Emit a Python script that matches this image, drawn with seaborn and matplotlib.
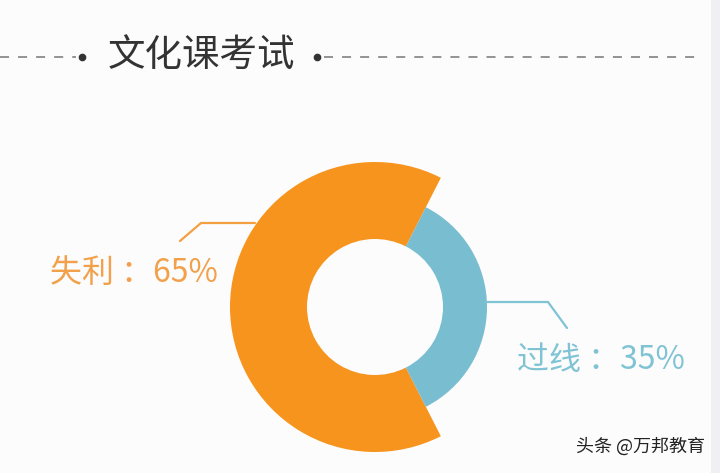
import matplotlib
matplotlib.use("Agg")
import matplotlib.pyplot as plt
import seaborn as sns

# data
categories = ["失利", "过线"]
shares = [65, 35]
colors = ["#F7941D", "#78BDD0"]
title = "文化课考试"
watermark = "头条 @万邦教育"

W, H = 720, 473

sns.set_theme(style="white")
plt.rcParams["font.family"] = ["Noto Sans CJK SC", "DejaVu Sans"]

fig = plt.figure(figsize=(W / 100, H / 100), dpi=100, facecolor="#fcfcfc")
ax = fig.add_axes([0, 0, 1, 1])
ax.set_facecolor("#fcfcfc")

# donut: big orange slice on the left, thinner blue slice centred on the right
cx, cy = 375, H - 307
inner = 68
outer = [145, 112]
start = 360 * shares[1] / sum(shares) / 2
wedges, _ = ax.pie(shares, colors=colors, startangle=start, counterclock=True,
                   center=(cx, cy), radius=outer[0], frame=True,
                   wedgeprops=dict(width=outer[0] - inner, linewidth=0))
for w, r in zip(wedges, outer):
    w.set_radius(r)
    w.set_width(r - inner)
ax.set_xlim(0, W)
ax.set_ylim(0, H)
ax.set_aspect("equal")
ax.axis("off")

# grey strip at the right edge of the screenshot
ax.axvspan(711, W, color="#f0f0f2", lw=0)

# leader lines + labels
ax.plot([255, 201, 180], [H - 223, H - 223, H - 241], color="#F5A040", lw=1.6)
ax.text(50, H - 273, f"{categories[0]} ：{shares[0]}%", color="#F2A04A",
        fontsize=23, va="center", ha="left")
ax.plot([486, 548, 567], [H - 302, H - 302, H - 328], color="#7FC3D5", lw=1.6)
ax.text(517, H - 360, f"{categories[1]} ：{shares[1]}%", color="#7FC3D5",
        fontsize=23, va="center", ha="left")

# header with dashed rule
ax.plot([0, 76], [H - 57, H - 57], color="#8a8a8a", lw=1.3, ls=(0, (5, 5)))
ax.plot([324, 703], [H - 57, H - 57], color="#8a8a8a", lw=1.3, ls=(0, (5, 5)))
ax.plot([82, 317], [H - 57, H - 57], "o", color="#333333", ms=4.5)
ax.text(201, H - 55, title, color="#333333", fontsize=27, ha="center", va="center")

ax.text(705, H - 447, watermark, color="#222222", fontsize=13,
        ha="right", va="center")

fig.savefig("out.png", dpi=100, facecolor=fig.get_facecolor())
